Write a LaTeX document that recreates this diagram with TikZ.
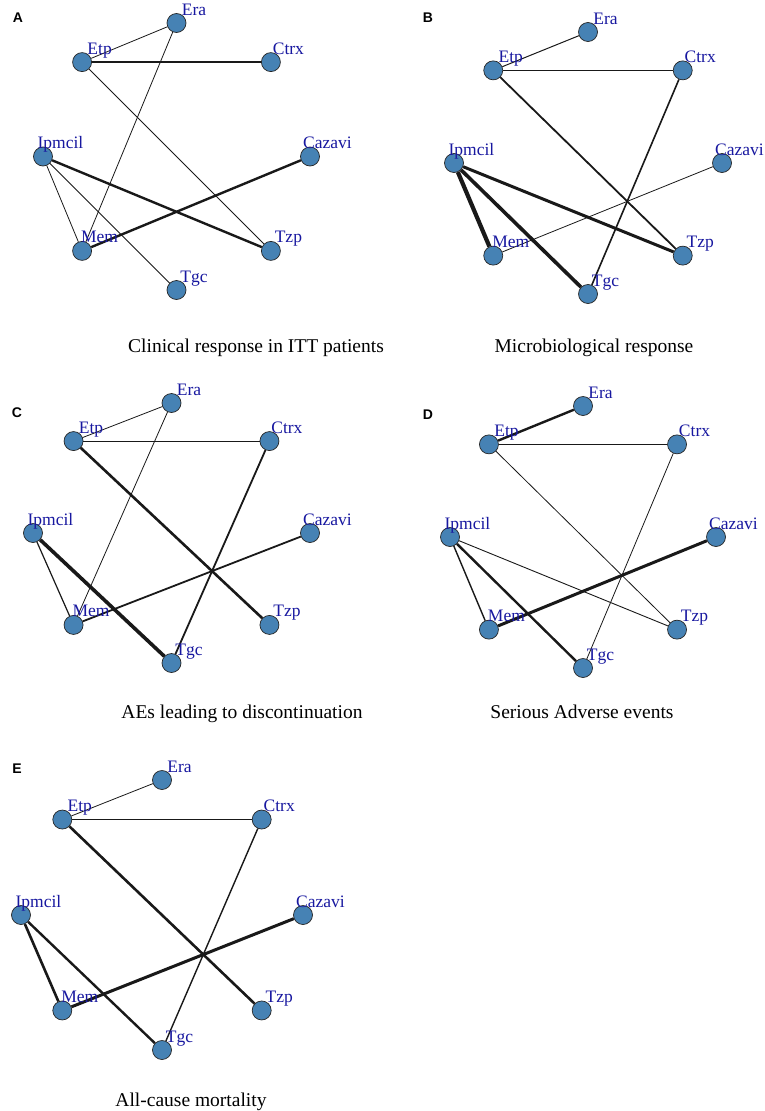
\documentclass[tikz,border=0pt]{standalone}
\usepackage{fontspec}
\setmainfont{Liberation Serif}
\newfontfamily\letterfont{Liberation Sans}
\usepackage{tikz}

\definecolor{nodeblue}{RGB}{70,130,180}
\definecolor{labelblue}{RGB}{24,24,160}

\tikzset{
  drug/.style={circle, draw=black!85, line width=0.7pt, fill=nodeblue, minimum size=19pt, inner sep=0pt},
  druglabel/.style={anchor=base, inner sep=0pt, text=labelblue, font=\fontsize{17.5}{20}\selectfont},
  link/.style={draw=black!90},
  caption/.style={anchor=base, inner sep=0pt, font=\fontsize{19.5}{22}\selectfont},
  letter/.style={inner sep=0pt, font=\letterfont\bfseries\fontsize{14}{16}\selectfont}
}

% #1 panel, (#2,#3) centre of the ring, #4 and #5 radii, #6 links
\newcommand{\drugnet}[6]{%
  \begin{scope}[shift={(#2,#3)}]
    \foreach \drug/\ang in {Era/-90,Ctrx/-45,Cazavi/0,Tzp/45,Tgc/90,Mem/135,Ipmcil/180,Etp/-135}
      \node[drug] (#1\drug) at (\ang:#4 and #5) {};
  \end{scope}
  \foreach \src/\dst/\lw in {#6}
    \draw[link, line width=\lw pt] (#1\src) -- (#1\dst);
  \foreach \drug in {Era,Ctrx,Cazavi,Tzp,Tgc,Mem,Ipmcil,Etp}
    \node[druglabel] (#1\drug-l) at ([xshift=17.5pt,yshift=8pt]#1\drug.center) {\drug};
}

\begin{document}
\begin{tikzpicture}[x=1pt, y=-1pt]
  %%%%% START %%%%%
  \fill[white] (0,0) rectangle (765,1111);

  % A
  \node[letter] (letA) at (18,18) {A};
  \drugnet{A}{176.5}{156.5}{133.5}{133.5}{Etp/Era/0.8, Etp/Ctrx/1.3, Era/Mem/0.8, Etp/Tzp/0.8,
    Ipmcil/Tzp/2.4, Ipmcil/Mem/0.8, Ipmcil/Tgc/0.8, Mem/Cazavi/2.4}
  \node[caption] (capA) at (256,352) {Clinical response in ITT patients};

  % B
  \node[letter] (letB) at (428,18) {B};
  \drugnet{B}{588}{163}{134}{131}{Etp/Era/1.0, Etp/Ctrx/1.3, Etp/Tzp/1.8, Ctrx/Tgc/1.6,
    Ipmcil/Mem/4.2, Ipmcil/Tgc/3.6, Ipmcil/Tzp/3.0, Mem/Cazavi/0.8}
  \node[caption] (capB) at (594,352) {Microbiological response};

  % C
  \node[letter] (letC) at (17,413) {C};
  \drugnet{C}{171.5}{533}{138.5}{130}{Etp/Era/0.8, Etp/Ctrx/1.0, Era/Mem/0.8, Etp/Tzp/2.6,
    Ctrx/Tgc/1.8, Ipmcil/Mem/1.2, Ipmcil/Tgc/3.6, Mem/Cazavi/1.8}
  \node[caption] (capC) at (242,718) {AEs leading to discontinuation};

  % D
  \node[letter] (letD) at (428,415) {D};
  \drugnet{D}{583}{537}{133}{131}{Etp/Era/2.4, Etp/Ctrx/1.4, Etp/Tzp/0.8, Ctrx/Tgc/0.8,
    Ipmcil/Mem/1.4, Ipmcil/Tgc/2.4, Ipmcil/Tzp/0.9, Mem/Cazavi/3.0}
  \node[caption] (capD) at (582,718) {Serious Adverse events};

  % E
  \node[letter] (letE) at (17,769) {E};
  \drugnet{E}{162}{915}{141}{135}{Etp/Era/0.8, Etp/Ctrx/1.2, Etp/Tzp/2.6, Ctrx/Tgc/1.4,
    Ipmcil/Mem/2.6, Ipmcil/Tgc/2.4, Mem/Cazavi/3.0}
  \node[caption] (capE) at (191,1106) {All-cause mortality};
  %%%%% END %%%%%
\end{tikzpicture}
\end{document}
